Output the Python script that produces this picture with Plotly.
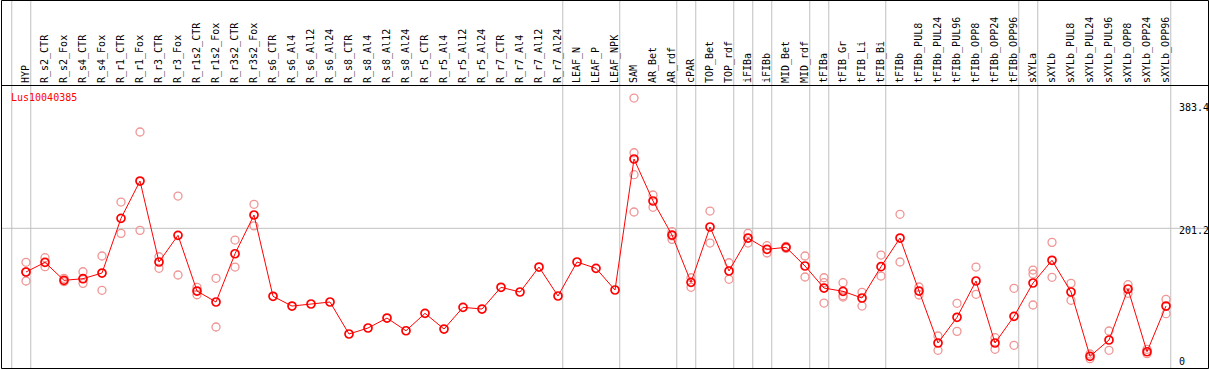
import plotly.graph_objects as go

# ---------------- data ----------------
categories = [
    "HYP", "R_s2_CTR", "R_s2_Fox", "R_s4_CTR", "R_s4_Fox", "R_r1_CTR", "R_r1_Fox",
    "R_r3_CTR", "R_r3_Fox", "R_r1s2_CTR", "R_r1s2_Fox", "R_r3s2_CTR", "R_r3s2_Fox",
    "R_s6_CTR", "R_s6_Al4", "R_s6_Al12", "R_s6_Al24", "R_s8_CTR", "R_s8_Al4",
    "R_s8_Al12", "R_s8_Al24", "R_r5_CTR", "R_r5_Al4", "R_r5_Al12", "R_r5_Al24",
    "R_r7_CTR", "R_r7_Al4", "R_r7_Al12", "R_r7_Al24", "LEAF_N", "LEAF_P", "LEAF_NPK",
    "SAM", "AR_Bet", "AR_rdf", "cPAR", "TOP_Bet", "TOP_rdf", "iFIBa", "iFIBb",
    "MID_Bet", "MID_rdf", "tFIBa", "tFIB_Gr", "tFIB_Li", "tFIB_Bi", "tFIBb",
    "tFIBb_PUL8", "tFIBb_PUL24", "tFIBb_PUL96", "tFIBb_OPP8", "tFIBb_OPP24",
    "tFIBb_OPP96", "sXYLa", "sXYLb", "sXYLb_PUL8", "sXYLb_PUL24", "sXYLb_PUL96",
    "sXYLb_OPP8", "sXYLb_OPP24", "sXYLb_OPP96",
]

mean_values = [
    137.1, 151.3, 124.9, 127.3, 135.6, 215.8, 270.5,
    151.8, 190.9, 109.2, 93.1, 163.9, 220.7,
    101.5, 87.2, 90.2, 93.1, 46.2, 55.0,
    69.6, 51.0, 76.5, 53.5, 85.3, 82.8,
    114.7, 107.8, 144.4, 101.9, 151.8, 142.5, 110.7,
    302.8, 241.2, 191.3, 122.0, 203.1, 138.6, 186.9, 170.4,
    173.3, 145.9, 113.6, 108.8, 99.0, 144.9, 186.9,
    109.2, 33.0, 70.7, 123.9, 33.0,
    72.1, 121.0, 154.3, 107.8, 13.5, 37.4,
    112.2, 20.2, 87.2,
]

# replicate values per category (empty where none are shown)
replicate_values = [
    [151.3, 137.1, 123.9], [158.1, 144.9], [127.9, 122.9], [137.5, 120.5], [160.6, 110.3],
    [239.7, 193.8], [342.4, 198.2],
    [159.5, 142.5], [248.5, 132.7], [114.7, 103.8], [127.9, 56.5], [184.0, 144.4], [236.4, 204.8],
    [], [], [], [], [], [],
    [], [], [], [], [], [],
    [], [], [], [], [], [], [],
    [392.2, 312.0, 279.8, 225.1], [250.0, 232.0], [196.2, 185.0, 190.0], [128.7, 114.7],
    [226.5, 179.6], [150.7, 126.4], [193.8, 179.6], [175.7, 165.0],
    [174.8, 171.8], [160.6, 129.8], [128.7, 121.4, 91.6], [121.4, 102.3, 100.4],
    [107.3, 87.2], [162.0, 131.2], [221.7, 151.8],
    [115.1, 103.4], [43.3, 22.3], [91.2, 50.1], [144.4, 104.4], [40.8, 23.8],
    [113.2, 29.6], [140.0, 134.2, 88.7], [180.6, 129.3], [120.5, 95.6], [16.9, 10.0], [50.6, 22.3],
    [118.5, 105.9], [23.8, 17.3], [97.1, 76.0],
]

# group separators: drawn just after these category indices
separator_after = [-1, 0, 28, 31, 34, 35, 37, 38, 39, 41, 42, 45, 52, 53, 60]

y_tick_values = [0, 201.2, 383.4]
y_tick_labels = ["0", "201.2", "383.4"]
gridline_values = [201.2]

gene_title = "Lus10040385"

# ---------------- figure ----------------
W, H = 1209, 370
FONT = "DejaVu Sans Mono"
x_idx = list(range(len(categories)))

rep_x, rep_y = [], []
for i, reps in enumerate(replicate_values):
    for v in reps:
        rep_x.append(i)
        rep_y.append(v)

fig = go.Figure()
fig.add_trace(go.Scatter(
    x=rep_x, y=rep_y, mode="markers",
    marker=dict(symbol="circle-open", size=8, color="#f09494", line=dict(width=1.3)),
    hoverinfo="skip", showlegend=False,
))
fig.add_trace(go.Scatter(
    x=x_idx, y=mean_values, mode="lines+markers",
    line=dict(color="#ff0000", width=1),
    marker=dict(symbol="circle-open", size=8, color="#ff0000", line=dict(width=1.7)),
    showlegend=False,
))

# pixel helpers for paper coordinates (margins are zero)
px = lambda p: p / W
py = lambda p: 1 - p / H

shapes = []
# separator lines (full height)
for s in separator_after:
    shapes.append(dict(type="line", xref="x", yref="paper", x0=s + 0.25, x1=s + 0.25,
                       y0=py(369), y1=py(0), line=dict(color="#c0c0c0", width=1), layer="below"))
# horizontal gridline
for g in gridline_values:
    shapes.append(dict(type="line", xref="paper", yref="y", x0=px(1.5), x1=px(1208.5),
                       y0=g, y1=g, line=dict(color="#c0c0c0", width=1), layer="below"))
# outer border and header line
shapes.append(dict(type="rect", xref="paper", yref="paper", x0=px(1.5), x1=px(1208.5),
                   y0=py(368.5), y1=py(0.5), line=dict(color="black", width=1)))
shapes.append(dict(type="line", xref="paper", yref="paper", x0=px(1.5), x1=px(1208.5),
                   y0=py(85.5), y1=py(85.5), line=dict(color="black", width=1)))

annotations = [dict(text=gene_title, xref="paper", yref="paper", x=px(9), y=py(97),
                    xanchor="left", yanchor="middle", showarrow=False,
                    font=dict(family=FONT, size=10, color="#ff0000"))]
tick_shift = {"0": 4, "201.2": -2, "383.4": -3}
for v, t in zip(y_tick_values, y_tick_labels):
    annotations.append(dict(text=t, xref="paper", yref="y", x=px(1177), y=v,
                            xanchor="left", yanchor="middle", yshift=tick_shift[t],
                            showarrow=False, font=dict(family=FONT, size=10, color="black")))

fig.update_layout(
    width=W, height=H,
    margin=dict(l=0, r=0, t=0, b=0),
    paper_bgcolor="white", plot_bgcolor="rgba(0,0,0,0)",
    shapes=shapes, annotations=annotations,
    xaxis=dict(
        domain=[px(1), px(1208)], range=[-1.316, 62.21],
        side="top", tickmode="array", tickvals=x_idx, ticktext=categories,
        tickangle=-90, ticks="", showgrid=False, zeroline=False, showline=False,
        tickfont=dict(family=FONT, size=10, color="black"),
        ticklabelstandoff=1,
    ),
    yaxis=dict(
        domain=[1 - 369 / H, 1 - 85 / H], range=[-5.1, 411.3],
        showticklabels=False, showgrid=False, zeroline=False, showline=False, ticks="",
    ),
    font=dict(family=FONT, size=10),
)

fig.write_html(
    "out.html",
    config={"displayModeBar": False},
    post_script="document.body.style.margin='0';document.body.style.overflow='hidden';",
)
